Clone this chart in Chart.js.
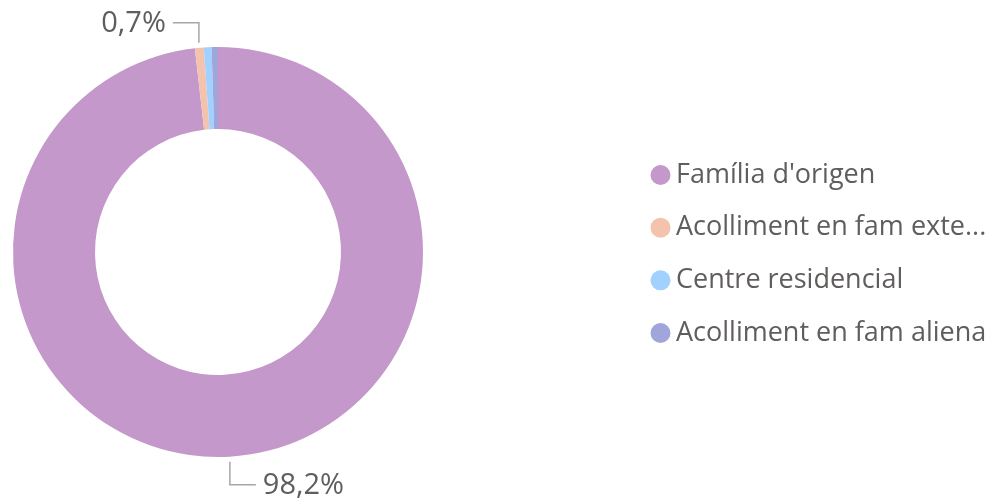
<!DOCTYPE html>
<html>
<head>
<meta charset="utf-8">
<script src="https://cdn.jsdelivr.net/npm/chart.js@4.4.0/dist/chart.umd.min.js"></script>
<style>
  html, body { margin: 0; padding: 0; background: #fff; }
  #wrap { width: 1000px; height: 499px; position: relative; }
</style>
</head>
<body>
<div id="wrap"><canvas id="chart"></canvas></div>
<script>
// data
const categories = ["Família d'origen", "Acolliment en fam extensa", "Centre residencial", "Acolliment en fam aliena"];
const shares = [98.2, 0.7, 0.6, 0.5]; // %
const sliceColors = ["#C498CA", "#F4C3AD", "#A0D1FF", "#A0A6DA"];
const labelledSlices = [0, 1]; // the small ones have no label

const FONT = "'Open Sans', sans-serif";
const TEXT_COLOR = "#605E5C";

function fmtPct(v) {
    return v.toFixed(1).replace('.', ',') + '%';
}

// labels outside the ring with an elbow leader line
const outsideLabels = {
    id: 'outsideLabels',
    afterDatasetsDraw(chart) {
        const ctx = chart.ctx;
        const arcs = chart.getDatasetMeta(0).data;
        ctx.save();
        ctx.font = '29px ' + FONT;
        ctx.textBaseline = 'middle';
        ctx.strokeStyle = '#A6A6A6';
        ctx.lineWidth = 1.5;
        ctx.fillStyle = TEXT_COLOR;
        labelledSlices.forEach(i => {
            const p = arcs[i].getProps(['x', 'y', 'startAngle', 'endAngle', 'outerRadius'], true);
            const mid = (p.startAngle + p.endAngle) / 2;
            const x0 = p.x + Math.cos(mid) * (p.outerRadius + 5);
            const y0 = p.y + Math.sin(mid) * (p.outerRadius + 5);
            const up = Math.sin(mid) < 0;
            const y1 = up ? y0 - 20 : y0 + 23;
            const dir = Math.cos(mid) < 0 ? -1 : 1;
            const x2 = x0 + dir * 26;

            ctx.beginPath();
            ctx.moveTo(x0, y0);
            ctx.lineTo(x0, y1);
            ctx.lineTo(x2, y1);
            ctx.stroke();

            ctx.textAlign = dir < 0 ? 'right' : 'left';
            ctx.fillText(fmtPct(shares[i]), x2 + dir * 7, y1 + 1);
        });
        ctx.restore();
    }
};

// legend on the right, dots + names, long names cut with "..."
const sideLegend = {
    id: 'sideLegend',
    afterDraw(chart) {
        const ctx = chart.ctx;
        const left = 660.5, textX = 676, maxW = chart.width - textX - 4;
        const step = 52.7;
        const top = 254 - step * (categories.length - 1) / 2;
        ctx.save();
        ctx.font = '27px ' + FONT;
        ctx.textBaseline = 'middle';
        ctx.textAlign = 'left';
        categories.forEach((name, i) => {
            const y = top + i * step;
            ctx.fillStyle = sliceColors[i];
            ctx.beginPath();
            ctx.arc(left, y, 10, 0, Math.PI * 2);
            ctx.fill();

            let txt = name;
            if (ctx.measureText(txt).width > maxW) {
                while (txt.length && ctx.measureText(txt + '...').width > maxW)
                    txt = txt.slice(0, -1);
                txt = txt.trimEnd() + '...';
            }
            ctx.fillStyle = TEXT_COLOR;
            ctx.fillText(txt, textX, y);
        });
        ctx.restore();
    }
};

new Chart(document.getElementById('chart'), {
    type: 'doughnut',
    data: {
        labels: categories,
        datasets: [{
            data: shares,
            backgroundColor: sliceColors,
            borderWidth: 0
        }]
    },
    options: {
        responsive: true,
        maintainAspectRatio: false,
        animation: false,
        cutout: '60%',
        layout: { padding: { left: 13, top: 47, bottom: 42, right: 577 } },
        plugins: {
            legend: { display: false },
            tooltip: { enabled: false }
        }
    },
    plugins: [outsideLabels, sideLegend]
});
</script>
</body>
</html>
